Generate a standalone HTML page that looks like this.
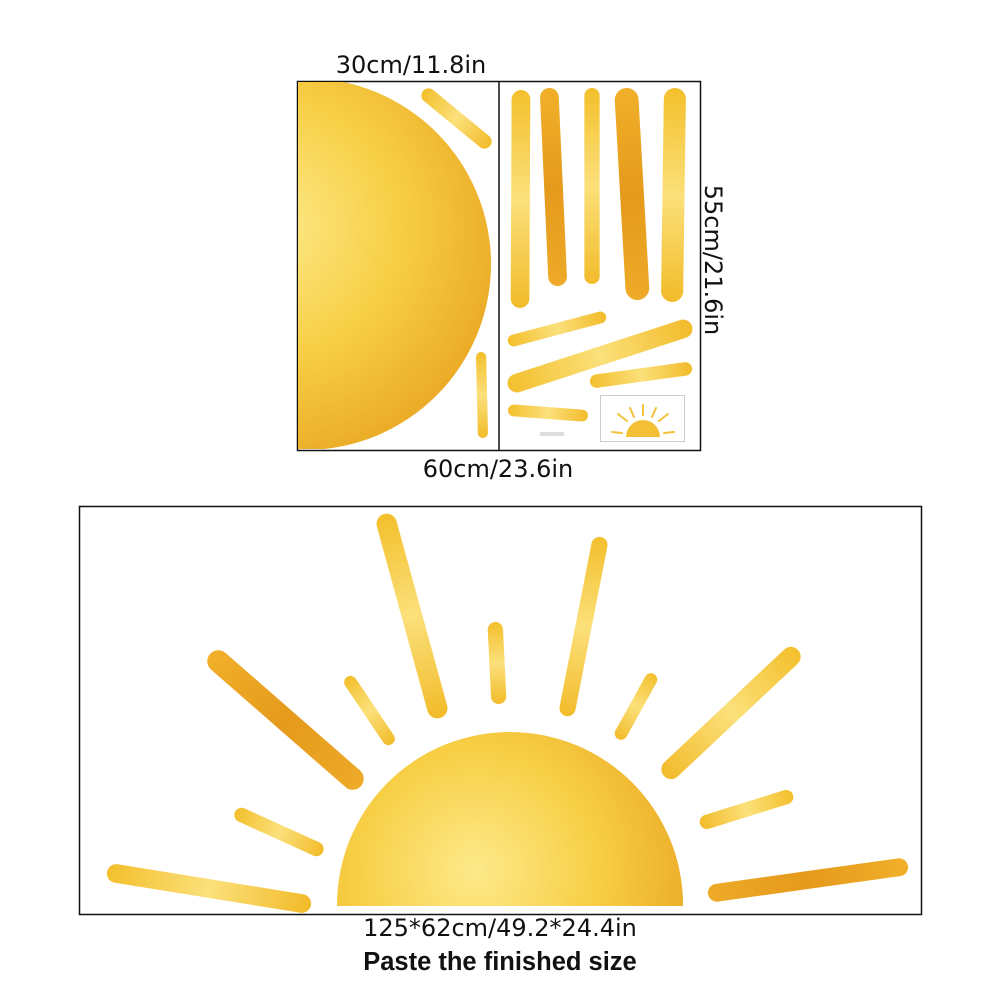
<!DOCTYPE html>
<html><head><meta charset="utf-8"><style>
html,body{margin:0;padding:0;background:#fff;width:1001px;height:1001px;overflow:hidden;}
svg{display:block;overflow:hidden;}
text{font-family:"DejaVu Sans","Liberation Sans",sans-serif;fill:#111;}
</style></head>
<body>
<svg width="1001" height="1001" viewBox="0 0 1001 1001">
<defs>
<radialGradient id="sunG" cx="40%" cy="40%" r="70%">
<stop offset="0" stop-color="#fde98a"/><stop offset="0.5" stop-color="#f7cf45"/><stop offset="1" stop-color="#e9a421"/>
</radialGradient>
<linearGradient id="rayY" x1="0" y1="0" x2="1" y2="0">
<stop offset="0" stop-color="#f3bf2c"/><stop offset="0.5" stop-color="#fbe07a"/><stop offset="1" stop-color="#f2bb2a"/>
</linearGradient>
<linearGradient id="rayO" x1="0" y1="0" x2="1" y2="0">
<stop offset="0" stop-color="#f1b02a"/><stop offset="0.5" stop-color="#e59a1c"/><stop offset="1" stop-color="#eeaa28"/>
</linearGradient>
<clipPath id="leftClip"><rect x="298" y="82" width="200" height="367"/></clipPath>
<clipPath id="botClip"><rect x="80" y="507" width="841" height="399"/></clipPath>
</defs>

<text x="411" y="73" font-size="24" text-anchor="middle">30cm/11.8in</text>
<rect x="297.5" y="81.5" width="403" height="369" fill="none" stroke="#111" stroke-width="1.5"/>
<line x1="499" y1="81" x2="499" y2="450" stroke="#111" stroke-width="1.5"/>
<text x="0" y="0" font-size="24" text-anchor="middle" transform="translate(705,260) rotate(90)">55cm/21.6in</text>
<text x="498" y="477" font-size="24" text-anchor="middle">60cm/23.6in</text>

<g clip-path="url(#leftClip)">
<circle cx="305" cy="264" r="186" fill="url(#sunG)"/>
</g>

<g id="rays"></g>

<rect x="600.5" y="395.5" width="84" height="46" fill="#fff" stroke="#ccc"/>
<path d="M626 437 A17 17 0 0 1 660 437 Z" fill="#f3bf35"/>
<g stroke="#f2c13a" stroke-width="2" stroke-linecap="round">
<line x1="643" y1="405" x2="643" y2="415"/><line x1="630" y1="408" x2="634" y2="417"/><line x1="656" y1="408" x2="652" y2="417"/>
<line x1="618" y1="414" x2="627" y2="421"/><line x1="668" y1="414" x2="659" y2="421"/><line x1="612" y1="432" x2="622" y2="433"/><line x1="674" y1="432" x2="664" y2="433"/>
</g>
<rect x="540" y="432" width="24" height="4" fill="#ddd"/>

<rect x="79.5" y="506.5" width="842" height="408" fill="none" stroke="#111" stroke-width="1.5"/>
<g clip-path="url(#botClip)">
<circle cx="510" cy="905" r="173" fill="url(#sunG)"/>
</g>
<g id="rays2"></g>

<text x="500" y="936" font-size="24" text-anchor="middle">125*62cm/49.2*24.4in</text>
<text x="500" y="970" text-anchor="middle" style="font-family:'Liberation Sans',sans-serif;font-size:25.5px;font-weight:bold;">Paste the finished size</text>
</svg>
<script>
var sheetRays=[
[423,91,490,146,17,'Y'],[481,352,483,438,12,'Y'],
[521,90,520,308,22,'Y'],[549,88,558,286,22,'O'],[592,88,592,284,18,'Y'],[626,88,638,300,28,'O'],[675,88,672,302,26,'Y'],
[508,342,606,316,14,'Y'],[508,386,692,326,22,'Y'],[590,382,692,368,16,'Y'],[508,410,588,416,14,'Y']
];
var finalRays=[
[384,514,440,718,24,'Y'],[601,537,566,716,19,'Y'],[495,622,499,704,18,'Y'],
[347,677,392,744,15,'Y'],[654,674,618,739,15,'Y'],[210,654,361,786,26,'O'],
[798,650,664,776,23,'Y'],[235,812,323,852,17,'Y'],[793,795,700,824,17,'Y'],
[107,872,311,905,22,'Y'],[908,866,708,894,21,'O']
];
var NS='http://www.w3.org/2000/svg';
function drawRays(list,gid,prefix){
  var g=document.getElementById(gid);
  list.forEach(function(r,i){
    var x1=r[0],y1=r[1],x2=r[2],y2=r[3],w=r[4]*0.85;
    var dx=x2-x1,dy=y2-y1,len=Math.sqrt(dx*dx+dy*dy);
    var ang=Math.atan2(dy,dx)*180/Math.PI;
    var cx=(x1+x2)/2,cy=(y1+y2)/2;
    var e=document.createElementNS(NS,'rect');
    e.setAttribute('x',cx-len/2);e.setAttribute('y',cy-w/2);
    e.setAttribute('width',len);e.setAttribute('height',w);
    e.setAttribute('rx',w/2);e.setAttribute('ry',w/2);
    e.setAttribute('transform','rotate('+ang+' '+cx+' '+cy+')');
    e.setAttribute('fill','url(#ray'+r[5]+')');
    
    
    g.appendChild(e);
  });
}
drawRays(sheetRays,'rays','sheet-ray');
drawRays(finalRays,'rays2','sun-ray');
</script>
</body></html>
